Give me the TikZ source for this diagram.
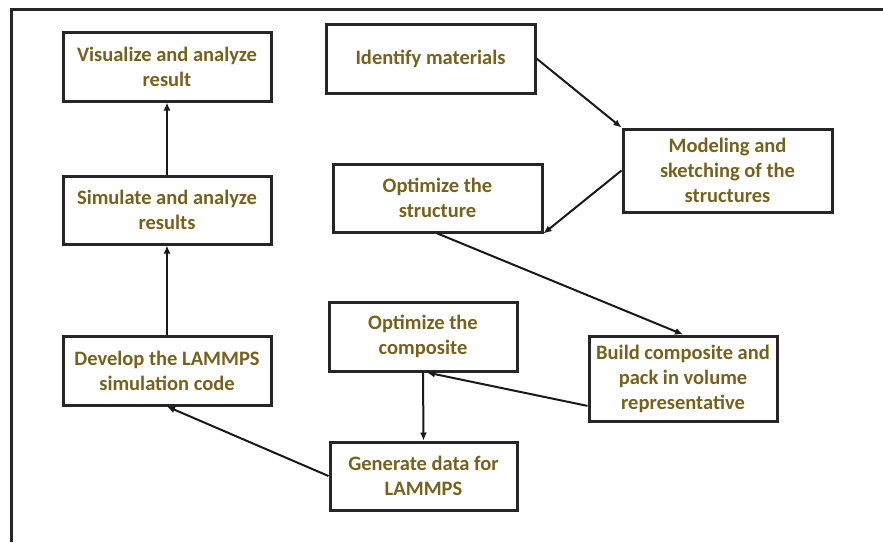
\documentclass[tikz,border=0pt]{standalone}
\usepackage{fontspec}
\setmainfont{Carlito}
\usepackage{tikz}
\usetikzlibrary{positioning,arrows.meta,shadows}

\definecolor{olivetext}{HTML}{76621F}

\begin{document}
\begin{tikzpicture}[x=1pt, y=-1pt,
  stepbox/.style = {draw = black!85, fill = white, line width = 3pt, shape = rectangle,
    align = center, inner sep = 0pt, text = olivetext,
    font = \fontsize{20.5}{25}\selectfont\bfseries,
    drop shadow = {shadow xshift = 2pt, shadow yshift = -2pt, fill = black!20}},
  flow/.style = {draw = black!90, line width = 2pt, -{Latex[length=8pt, width=7pt]}}]
\useasboundingbox (0,0) rectangle (883,542);
\draw[line width = 3pt, black!85] (11,542) -- (11,9) -- (883,9);

\node[stepbox, minimum width = 208pt, minimum height = 69pt] (vis) at (167,66.5) {Visualize and analyze\\result};
\node[stepbox, minimum width = 208pt, minimum height = 68pt] (sim) at (167,210) {Simulate and analyze\\results};
\node[stepbox, minimum width = 208pt, minimum height = 69pt] (dev) at (167,370.5) {Develop the LAMMPS\\simulation code};
\node[stepbox, minimum width = 209pt, minimum height = 69pt] (ident) at (430.5,58.5) {Identify materials};
\node[stepbox, minimum width = 209pt, minimum height = 83pt] (model) at (727.5,170.5) {Modeling and\\sketching of the\\structures};
\node[stepbox, minimum width = 209pt, minimum height = 68pt] (optstr) at (437.5,198) {Optimize the\\structure};
\node[stepbox, minimum width = 188pt, minimum height = 85pt] (build) at (683,378.5) {Build composite and\\pack in volume\\representative};
\node[stepbox, minimum width = 188pt, minimum height = 69pt] (optcomp) at (423,336.5) {Optimize the\\composite};
\node[stepbox, minimum width = 187pt, minimum height = 68pt] (gen) at (423.5,476) {Generate data for\\LAMMPS};

\draw[flow] (ident.east) -- (model.north west);
\draw[flow] (model.west) -- (optstr.south east);
\draw[flow] (optstr.south) -- (build.north);
\draw[flow] (build.196) -- ([xshift=4pt]optcomp.south);
\draw[flow] (optcomp.south) -- (gen.north);
\draw[flow] (gen.west) -- (dev.south);
\draw[flow] (dev.north) -- (sim.south);
\draw[flow] (sim.north) -- (vis.south);
\end{tikzpicture}
\end{document}
